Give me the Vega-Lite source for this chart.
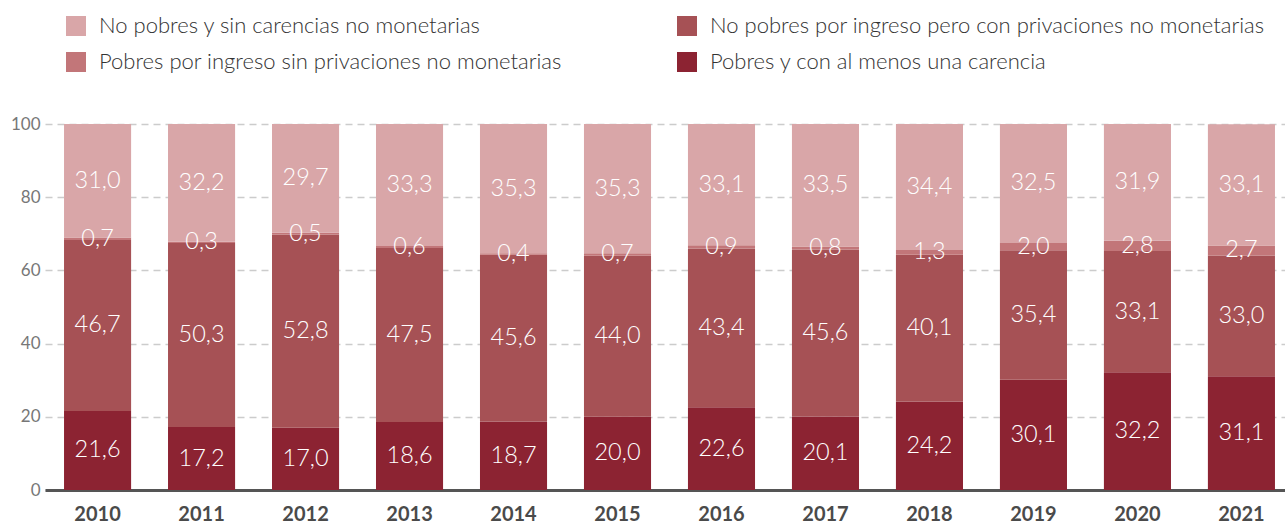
{
  "$schema": "https://vega.github.io/schema/vega-lite/v6.json",
  "width": 1249,
  "height": 366,
  "autosize": "none",
  "padding": {"left": 45, "top": 124, "right": 0, "bottom": 34},
  "config": {
    "view": {"stroke": null},
    "font": "Lato",
    "locale": {"number": {"decimal": ",", "thousands": ".", "grouping": [3], "currency": ["", " €"]}}
  },
  "data": {
    "values": [
      {"year": "2010", "cat": "Pobres y con al menos una carencia", "ord": 1, "v": 21.6},
      {"year": "2010", "cat": "No pobres por ingreso pero con privaciones no monetarias", "ord": 2, "v": 46.7},
      {"year": "2010", "cat": "Pobres por ingreso sin privaciones no monetarias", "ord": 3, "v": 0.7},
      {"year": "2010", "cat": "No pobres y sin carencias no monetarias", "ord": 4, "v": 31.0},
      {"year": "2011", "cat": "Pobres y con al menos una carencia", "ord": 1, "v": 17.2},
      {"year": "2011", "cat": "No pobres por ingreso pero con privaciones no monetarias", "ord": 2, "v": 50.3},
      {"year": "2011", "cat": "Pobres por ingreso sin privaciones no monetarias", "ord": 3, "v": 0.3},
      {"year": "2011", "cat": "No pobres y sin carencias no monetarias", "ord": 4, "v": 32.2},
      {"year": "2012", "cat": "Pobres y con al menos una carencia", "ord": 1, "v": 17.0},
      {"year": "2012", "cat": "No pobres por ingreso pero con privaciones no monetarias", "ord": 2, "v": 52.8},
      {"year": "2012", "cat": "Pobres por ingreso sin privaciones no monetarias", "ord": 3, "v": 0.5},
      {"year": "2012", "cat": "No pobres y sin carencias no monetarias", "ord": 4, "v": 29.7},
      {"year": "2013", "cat": "Pobres y con al menos una carencia", "ord": 1, "v": 18.6},
      {"year": "2013", "cat": "No pobres por ingreso pero con privaciones no monetarias", "ord": 2, "v": 47.5},
      {"year": "2013", "cat": "Pobres por ingreso sin privaciones no monetarias", "ord": 3, "v": 0.6},
      {"year": "2013", "cat": "No pobres y sin carencias no monetarias", "ord": 4, "v": 33.3},
      {"year": "2014", "cat": "Pobres y con al menos una carencia", "ord": 1, "v": 18.7},
      {"year": "2014", "cat": "No pobres por ingreso pero con privaciones no monetarias", "ord": 2, "v": 45.6},
      {"year": "2014", "cat": "Pobres por ingreso sin privaciones no monetarias", "ord": 3, "v": 0.4},
      {"year": "2014", "cat": "No pobres y sin carencias no monetarias", "ord": 4, "v": 35.3},
      {"year": "2015", "cat": "Pobres y con al menos una carencia", "ord": 1, "v": 20.0},
      {"year": "2015", "cat": "No pobres por ingreso pero con privaciones no monetarias", "ord": 2, "v": 44.0},
      {"year": "2015", "cat": "Pobres por ingreso sin privaciones no monetarias", "ord": 3, "v": 0.7},
      {"year": "2015", "cat": "No pobres y sin carencias no monetarias", "ord": 4, "v": 35.3},
      {"year": "2016", "cat": "Pobres y con al menos una carencia", "ord": 1, "v": 22.6},
      {"year": "2016", "cat": "No pobres por ingreso pero con privaciones no monetarias", "ord": 2, "v": 43.4},
      {"year": "2016", "cat": "Pobres por ingreso sin privaciones no monetarias", "ord": 3, "v": 0.9},
      {"year": "2016", "cat": "No pobres y sin carencias no monetarias", "ord": 4, "v": 33.1},
      {"year": "2017", "cat": "Pobres y con al menos una carencia", "ord": 1, "v": 20.1},
      {"year": "2017", "cat": "No pobres por ingreso pero con privaciones no monetarias", "ord": 2, "v": 45.6},
      {"year": "2017", "cat": "Pobres por ingreso sin privaciones no monetarias", "ord": 3, "v": 0.8},
      {"year": "2017", "cat": "No pobres y sin carencias no monetarias", "ord": 4, "v": 33.5},
      {"year": "2018", "cat": "Pobres y con al menos una carencia", "ord": 1, "v": 24.2},
      {"year": "2018", "cat": "No pobres por ingreso pero con privaciones no monetarias", "ord": 2, "v": 40.1},
      {"year": "2018", "cat": "Pobres por ingreso sin privaciones no monetarias", "ord": 3, "v": 1.3},
      {"year": "2018", "cat": "No pobres y sin carencias no monetarias", "ord": 4, "v": 34.4},
      {"year": "2019", "cat": "Pobres y con al menos una carencia", "ord": 1, "v": 30.1},
      {"year": "2019", "cat": "No pobres por ingreso pero con privaciones no monetarias", "ord": 2, "v": 35.4},
      {"year": "2019", "cat": "Pobres por ingreso sin privaciones no monetarias", "ord": 3, "v": 2.0},
      {"year": "2019", "cat": "No pobres y sin carencias no monetarias", "ord": 4, "v": 32.5},
      {"year": "2020", "cat": "Pobres y con al menos una carencia", "ord": 1, "v": 32.2},
      {"year": "2020", "cat": "No pobres por ingreso pero con privaciones no monetarias", "ord": 2, "v": 33.1},
      {"year": "2020", "cat": "Pobres por ingreso sin privaciones no monetarias", "ord": 3, "v": 2.8},
      {"year": "2020", "cat": "No pobres y sin carencias no monetarias", "ord": 4, "v": 31.9},
      {"year": "2021", "cat": "Pobres y con al menos una carencia", "ord": 1, "v": 31.1},
      {"year": "2021", "cat": "No pobres por ingreso pero con privaciones no monetarias", "ord": 2, "v": 33.0},
      {"year": "2021", "cat": "Pobres por ingreso sin privaciones no monetarias", "ord": 3, "v": 2.7},
      {"year": "2021", "cat": "No pobres y sin carencias no monetarias", "ord": 4, "v": 33.1}
    ]
  },
  "encoding": {
    "x": {
      "field": "year", "type": "nominal", "title": null,
      "scale": {"paddingInner": 0.355, "paddingOuter": 0.183},
      "axis": {
        "labelAngle": 0, "labelFontWeight": "bold", "labelFontSize": 20, "labelColor": "#4a4a4a",
        "labelPadding": 14, "ticks": false, "domainColor": "#555555", "domainWidth": 3, "domainCap": "butt"
      }
    },
    "y": {
      "field": "v", "type": "quantitative", "title": null, "stack": "zero",
      "scale": {"domain": [0, 100], "nice": false},
      "axis": {
        "values": [0, 20, 40, 60, 80, 100], "domain": false, "ticks": false,
        "labelFontSize": 17, "labelColor": "#777777", "labelPadding": 5,
        "gridColor": "#cccccc", "gridDash": [7, 5], "gridWidth": 1.5, "zindex": 0
      }
    },
    "order": {"field": "ord", "type": "quantitative", "sort": "ascending"}
  },
  "layer": [
    {
      "mark": {"type": "bar"},
      "encoding": {
        "color": {
          "field": "cat", "type": "nominal", "title": null,
          "scale": {
            "domain": [
              "No pobres y sin carencias no monetarias",
              "No pobres por ingreso pero con privaciones no monetarias",
              "Pobres por ingreso sin privaciones no monetarias",
              "Pobres y con al menos una carencia"
            ],
            "range": ["#D9A6A8", "#A65155", "#C27679", "#8C2332"]
          },
          "legend": {
            "orient": "none", "legendX": 20, "legendY": -109, "columns": 2, "direction": "horizontal",
            "symbolType": "square", "symbolSize": 400, "symbolStrokeWidth": 0, "symbolOpacity": 1,
            "labelFontSize": 22, "labelColor": "#333333", "labelLimit": 800, "labelOffset": 12,
            "labelFontWeight": 300,
            "columnPadding": 114, "rowPadding": 14
          }
        }
      }
    },
    {
      "mark": {"type": "text", "color": "white", "fontSize": 23.5, "font": "Lato", "fontWeight": 300},
      "encoding": {
        "y": {"field": "v", "type": "quantitative", "stack": "zero", "bandPosition": 0.5},
        "text": {"field": "v", "type": "quantitative", "format": ".1f"}
      }
    }
  ]
}
